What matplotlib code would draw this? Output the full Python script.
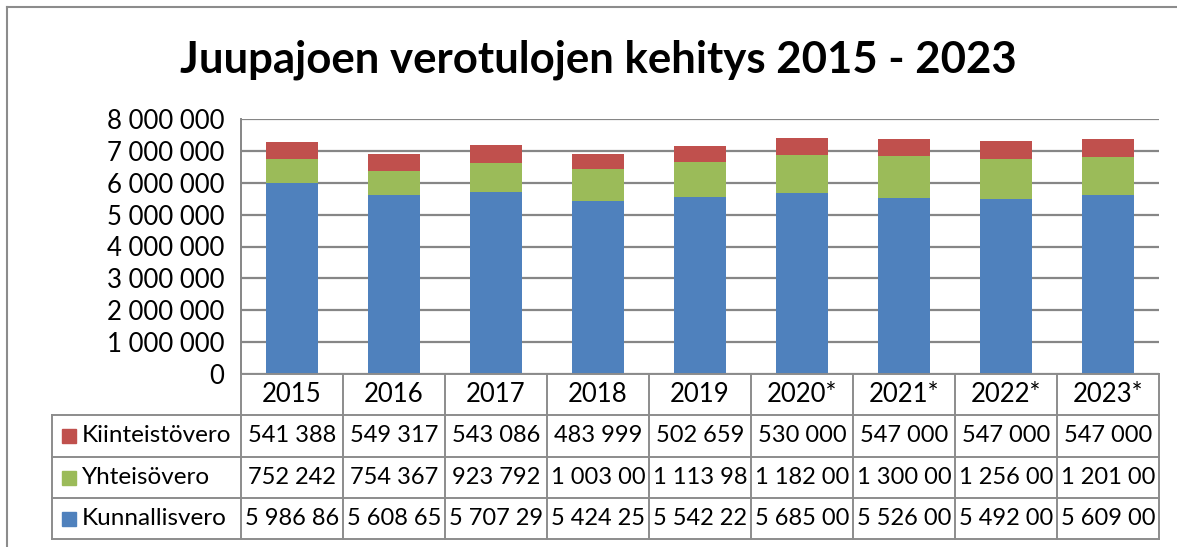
import matplotlib
matplotlib.use("Agg")
import matplotlib.pyplot as plt
from matplotlib.lines import Line2D
from matplotlib.patches import Rectangle

years = ["2015", "2016", "2017", "2018", "2019", "2020*", "2021*", "2022*", "2023*"]
kunnallisvero = [5986860, 5608650, 5707290, 5424250, 5542220, 5685000, 5526000, 5492000, 5609000]
yhteisovero = [752242, 754367, 923792, 1003000, 1113980, 1182000, 1300000, 1256000, 1201000]
kiinteistovero = [541388, 549317, 543086, 483999, 502659, 530000, 547000, 547000, 547000]
series_names = ["Kiinteistövero", "Yhteisövero", "Kunnallisvero"]
yticks = [0, 1000000, 2000000, 3000000, 4000000, 5000000, 6000000, 7000000, 8000000]
title = "Juupajoen verotulojen kehitys 2015 - 2023"

C_BLUE = "#4F81BD"
C_GREEN = "#9BBB59"
C_RED = "#C0504D"
GRID = "#868686"
FONT = "Lato"
TICK_FS = 18.5
NUM_FS = 17
LAB_FS = 17.5

W, H = 1177, 547
fig = plt.figure(figsize=(W / 100, H / 100), dpi=100)


def fx(x):
    return x / W


def fy(y):
    return 1 - y / H


x_left, x_right = 241, 1159
y_top, y_zero = 119, 374
ax = fig.add_axes([fx(x_left), fy(y_zero), fx(x_right - x_left), (y_zero - y_top) / H])

n = len(years)
xs = list(range(n))
bw = 0.51
ax.bar(xs, kunnallisvero, bw, color=C_BLUE, zorder=3)
bottom2 = kunnallisvero
ax.bar(xs, yhteisovero, bw, bottom=bottom2, color=C_GREEN, zorder=3)
bottom3 = [a + b for a, b in zip(kunnallisvero, yhteisovero)]
ax.bar(xs, kiinteistovero, bw, bottom=bottom3, color=C_RED, zorder=3)

ax.set_xlim(-0.5, n - 0.5)
ax.set_ylim(0, 8000000)
ax.set_yticks(yticks)
ax.set_yticklabels([f"{v:,}".replace(",", " ") for v in yticks], fontsize=TICK_FS, family=FONT)
ax.tick_params(axis="y", length=0, pad=12)
ax.set_xticks([])
ax.grid(axis="y", color=GRID, linewidth=1.6, zorder=0)
for s in ["top", "right", "bottom"]:
    ax.spines[s].set_visible(False)
ax.spines["left"].set_color(GRID)
ax.spines["left"].set_linewidth(1.4)

# Title
fig.text(fx(598), fy(60), title, ha="center", va="center", fontsize=31.5,
         fontweight="bold", family=FONT)

# Figure border (top and left)
fig.add_artist(Line2D([fx(7), fx(W)], [fy(7), fy(7)], color="#8c8c8c", lw=1.5))
fig.add_artist(Line2D([fx(7), fx(7)], [fy(7), fy(H)], color="#8c8c8c", lw=1.5))

# Data table
col_w = (x_right - x_left) / n
col_edges = [x_left + i * col_w for i in range(n + 1)]
tab_left = 52
row_edges = [415, 457, 498, 539]
lc = "#8c8c8c"
lw = 1.4


def hline(x0, x1, y):
    fig.add_artist(Line2D([fx(x0), fx(x1)], [fy(y), fy(y)], color=lc, lw=lw))


def vline(x, y0, y1):
    fig.add_artist(Line2D([fx(x), fx(x)], [fy(y0), fy(y1)], color=lc, lw=lw))


hline(x_left, x_right, y_zero)
for xe in col_edges:
    vline(xe, y_zero, row_edges[-1])
vline(tab_left, row_edges[0], row_edges[-1])
for ye in row_edges:
    hline(tab_left, x_right, ye)

for i, yl in enumerate(years):
    fig.text(fx((col_edges[i] + col_edges[i + 1]) / 2), fy(394), yl, ha="center", va="center",
             fontsize=TICK_FS, family=FONT)

rows = [kiinteistovero, yhteisovero, kunnallisvero]
colors = [C_RED, C_GREEN, C_BLUE]
for r, (name, vals, c) in enumerate(zip(series_names, rows, colors)):
    yc = (row_edges[r] + row_edges[r + 1]) / 2
    fig.add_artist(Rectangle((fx(62), fy(yc + 7)), fx(14), 14 / H, color=c,
                             transform=fig.transFigure))
    fig.text(fx(82), fy(yc), name, ha="left", va="center", fontsize=LAB_FS, family=FONT)
    for i, v in enumerate(vals):
        s = f"{v:,}".replace(",", " ")[:8]
        fig.text(fx((col_edges[i] + col_edges[i + 1]) / 2), fy(yc), s, ha="center",
                 va="center", fontsize=NUM_FS, family=FONT)

fig.savefig("out.png", dpi=100)
